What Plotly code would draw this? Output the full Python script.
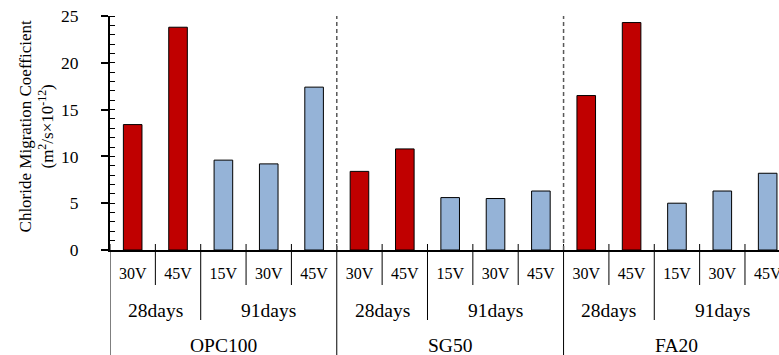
import plotly.graph_objects as go

# ---- data ----
materials = ["OPC100", "SG50", "FA20"]
ages = ["28days", "91days"]
voltages = {"28days": ["30V", "45V"], "91days": ["15V", "30V", "45V"]}
# values in order: material -> age -> voltage
values = {
    "OPC100": {"28days": [13.4, 23.8], "91days": [9.6, 9.2, 17.4]},
    "SG50":   {"28days": [8.4, 10.8],  "91days": [5.6, 5.5, 6.3]},
    "FA20":   {"28days": [16.5, 24.3], "91days": [5.0, 6.3, 8.2]},
}
age_colors = {"28days": "#C00000", "91days": "#95B3D7"}
y_title = "Chloride Migration Coefficient<br>(m<sup>2</sup>/s×10<sup>-12</sup>)"

FONT = "Liberation Serif"
W, H = 779, 355
ML, MR, MT, MB = 110, 0, 16, 105
PW = W - ML - MR
PH = H - MT - MB

# ---- build category layout ----
tickvals, ticktext = [], []
bar_x = {a: [] for a in ages}
bar_y = {a: [] for a in ages}
age_groups = []   # (center, label)
mat_groups = []   # (center, label)
volt_seps, age_seps, mat_seps = [], [], []
i = 0
for m in materials:
    m_start = i
    mat_seps.append(i - 0.5)
    for ai, a in enumerate(ages):
        a_start = i
        if ai > 0:
            age_seps.append(i - 0.5)
        for vi, (v, val) in enumerate(zip(voltages[a], values[m][a])):
            if vi > 0:
                volt_seps.append(i - 0.5)
            tickvals.append(i)
            ticktext.append(v)
            bar_x[a].append(i)
            bar_y[a].append(val)
            i += 1
        age_groups.append(((a_start + i - 1) / 2, a))
    mat_groups.append(((m_start + i - 1) / 2, m))
n_cat = i

fig = go.Figure()
for a in ages:
    fig.add_trace(go.Bar(
        x=bar_x[a], y=bar_y[a], width=0.41, name=a,
        marker=dict(color=age_colors[a], line=dict(color="black", width=1)),
        showlegend=False, hoverinfo="skip",
    ))

def py(px_below):
    """paper y for a pixel offset below the x axis (negative = above)"""
    return -px_below / PH

shapes = []
for x in volt_seps:
    shapes.append(dict(type="line", xref="x", yref="paper", x0=x, x1=x,
                       y0=py(-6), y1=py(35), line=dict(color="black", width=1)))
for x in age_seps:
    shapes.append(dict(type="line", xref="x", yref="paper", x0=x, x1=x,
                       y0=py(-6), y1=py(70), line=dict(color="black", width=1)))
for x in mat_seps:
    shapes.append(dict(type="line", xref="x", yref="paper", x0=x, x1=x,
                       y0=py(-6), y1=py(120), line=dict(color="black", width=1)))
    if x > 0:
        shapes.append(dict(type="line", xref="x", yref="y", x0=x, x1=x,
                           y0=0, y1=25, line=dict(color="#595959", width=1.5, dash="4px,3px")))

annotations = []
for cx, lab in age_groups:
    annotations.append(dict(x=cx, y=py(60), xref="x", yref="paper", text=lab,
                            showarrow=False, yanchor="middle",
                            font=dict(family=FONT, size=19.5, color="black")))
for cx, lab in mat_groups:
    annotations.append(dict(x=cx, y=py(95), xref="x", yref="paper", text=lab,
                            showarrow=False, yanchor="middle",
                            font=dict(family=FONT, size=19.5, color="black")))
annotations.append(dict(x=-(110 - 36) / PW, y=0.528, xref="paper", yref="paper",
                        text=y_title, showarrow=False, textangle=-90,
                        xanchor="center", yanchor="middle",
                        font=dict(family=FONT, size=17, color="black")))

fig.update_layout(
    width=W, height=H,
    margin=dict(l=ML, r=MR, t=MT, b=MB, autoexpand=False),
    plot_bgcolor="white", paper_bgcolor="white",
    font=dict(family=FONT, size=16, color="black"),
    shapes=shapes, annotations=annotations,
    xaxis=dict(range=[-0.5, n_cat - 0.75], tickvals=tickvals, ticktext=ticktext,
               ticks="", showline=True, linecolor="black", linewidth=2,
               showgrid=False, zeroline=False, ticklabelstandoff=8,
               ticklabeloverflow="allow",
               tickfont=dict(family=FONT, size=16, color="black")),
    yaxis=dict(range=[0, 25], dtick=5, ticks="outside", ticklen=7, tickwidth=1.5,
               tickcolor="black", showline=True, linecolor="black", linewidth=2,
               showgrid=False, zeroline=False, ticklabelstandoff=19,
               ticklabeloverflow="allow",
               minor=dict(dtick=1, ticks="inside", ticklen=5, tickwidth=1, tickcolor="black"),
               tickfont=dict(family=FONT, size=17.5, color="black")),
    yaxis2=dict(range=[0, 25], dtick=5, overlaying="y", side="left", ticks="inside",
                ticklen=5, tickwidth=1.5, tickcolor="black", showticklabels=False,
                showline=False, showgrid=False, zeroline=False),
)
fig.write_html("out.html", config={"displayModeBar": False},
               post_script="document.body.style.margin='0px';document.body.style.overflow='hidden';")
